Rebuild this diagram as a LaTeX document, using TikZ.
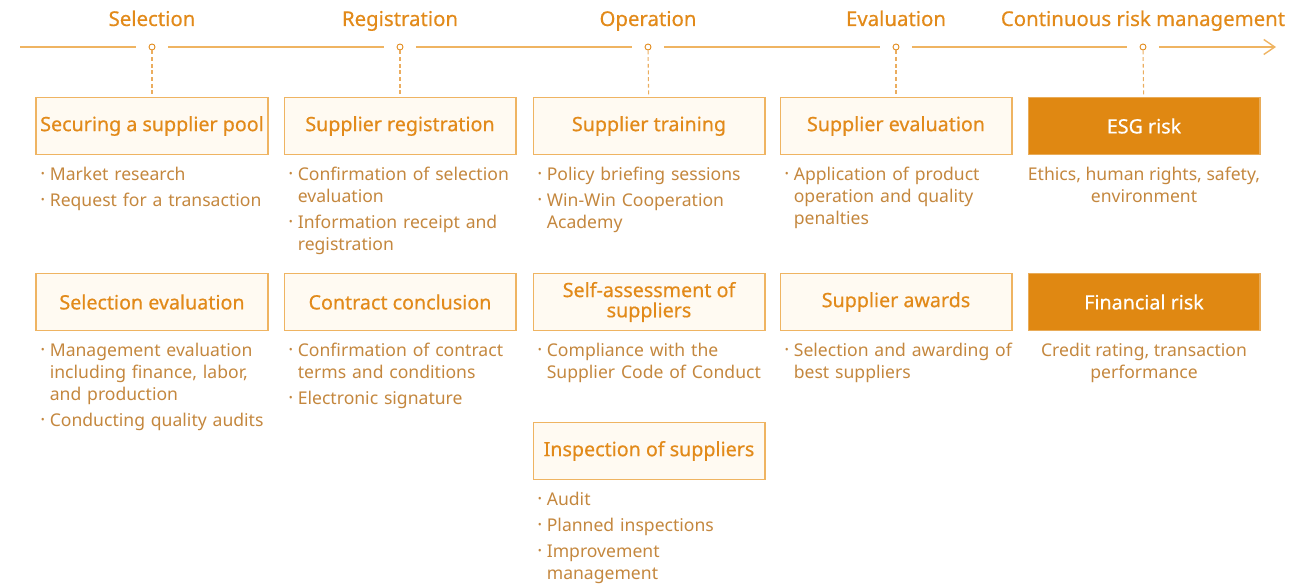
\documentclass[tikz,border=0pt]{standalone}
\usepackage{fontspec}
\setmainfont{Noto Sans}
\newfontfamily\medfont[FakeBold=0.5]{Noto Sans}
\usetikzlibrary{positioning,arrows.meta}
\definecolor{sorange}{HTML}{E28A1A}
\definecolor{sline}{HTML}{EFB462}
\definecolor{sfill}{HTML}{FFFAF2}
\definecolor{sbody}{HTML}{C4873E}
\definecolor{sdark}{HTML}{E08812}
\newcommand{\itm}[1]{\par\leftskip=0.18cm\noindent\llap{\makebox[0.18cm][l]{\raisebox{0.18em}{\scalebox{0.6}{\textbullet}}}}#1\par\vspace{0.08cm}}

\begin{document}
\begin{tikzpicture}[x=0.02cm, y=-0.02cm,
  head/.style={text=sorange, font=\medfont\fontsize{11.6}{13}\selectfont, inner sep=0pt, anchor=base},
  dot/.style={circle, draw=sorange, fill=white, line width=0.5pt, minimum size=0.12cm, inner sep=0pt},
  box/.style={draw=sline, fill=sfill, line width=0.6pt, minimum width=4.64cm, minimum height=1.14cm, inner sep=0pt, align=center, text=sorange, font=\medfont\fontsize{11.2}{11.5}\selectfont},
  risk/.style={box, draw=sdark!70, fill=sdark, text=white},
  list/.style={text width=4.6cm, align=left, inner sep=0pt, text=sbody, font=\fontsize{10}{12.5}\selectfont},
  note/.style={align=center, inner sep=0pt, text=sbody, font=\fontsize{10}{12.5}\selectfont},
  tl/.style={draw=sline, line width=0.8pt},
  drop/.style={draw=sorange!70, line width=0.6pt, dash pattern=on 2.2pt off 1.6pt}]
\useasboundingbox (0,0) rectangle (1304,584);
% timeline
\node[head] (hsel) at (152,26) {Selection};
\node[head] (hreg) at (400,26) {Registration};
\node[head] (hop) at (648,26) {Operation};
\node[head] (heval) at (896,26) {Evaluation};
\node[head] (hrisk) at (1143,26) {Continuous risk management};
\coordinate (tstart) at (20,47);
\coordinate (tend) at (1276,47);
\node[dot] (csel) at (152,47) {};
\node[dot] (creg) at (400,47) {};
\node[dot] (cop) at (648,47) {};
\node[dot] (ceval) at (896,47) {};
\node[dot] (crisk) at (1143,47) {};
\draw[tl, shorten >=0.25cm] (tstart) -- (csel);
\draw[tl, shorten <=0.25cm, shorten >=0.25cm] (csel) -- (creg);
\draw[tl, shorten <=0.25cm, shorten >=0.25cm] (creg) -- (cop);
\draw[tl, shorten <=0.25cm, shorten >=0.25cm] (cop) -- (ceval);
\draw[tl, shorten <=0.25cm, shorten >=0.25cm] (ceval) -- (crisk);
\draw[tl, shorten <=0.25cm, -{Straight Barb[length=0.22cm, width=0.3cm]}] (crisk) -- (tend);
% first row
\node[box] (pool) at (152,126) {Securing a supplier pool};
\node[box] (regi) at (400,126) {Supplier registration};
\node[box] (train) at (649,126) {Supplier training};
\node[box] (seval) at (896,126) {Supplier evaluation};
\node[risk] (esg) at (1144,126) {ESG risk};
\draw[drop] (csel) -- (pool);
\draw[drop] (creg) -- (regi);
\draw[drop] (cop) -- (train);
\draw[drop] (ceval) -- (seval);
\draw[drop] (crisk) -- (esg);
\node[list, below=0.07cm of pool.south west, anchor=north west, xshift=0.1cm] (lpool) {\itm{Market research}\itm{Request for a transaction}};
\node[list, below=0.07cm of regi.south west, anchor=north west, xshift=0.1cm] (lregi) {\itm{Confirmation of selection\newline evaluation}\itm{Information receipt and\newline registration}};
\node[list, below=0.07cm of train.south west, anchor=north west, xshift=0.1cm] (ltrain) {\itm{Policy briefing sessions}\itm{Win-Win Cooperation\newline Academy}};
\node[list, below=0.07cm of seval.south west, anchor=north west, xshift=0.1cm] (lseval) {\itm{Application of product\newline operation and quality\newline penalties}};
\node[note, below=0.23cm of esg] (lesg) {Ethics, human rights, safety,\\environment};
% second row
\node[box] (seleval) at (152,302) {Selection evaluation};
\node[box] (contract) at (400,302) {Contract conclusion};
\node[box] (selfas) at (649,302) {Self-assessment of\\suppliers};
\node[box] (awards) at (896,302) {Supplier awards};
\node[risk] (fin) at (1144,302) {Financial risk};
\node[list, below=0.07cm of seleval.south west, anchor=north west, xshift=0.1cm] (lseleval) {\itm{Management evaluation\newline including finance, labor,\newline and production}\itm{Conducting quality audits}};
\node[list, below=0.07cm of contract.south west, anchor=north west, xshift=0.1cm] (lcontract) {\itm{Confirmation of contract\newline terms and conditions}\itm{Electronic signature}};
\node[list, below=0.07cm of selfas.south west, anchor=north west, xshift=0.1cm] (lselfas) {\itm{Compliance with the\newline Supplier Code of Conduct}};
\node[list, below=0.07cm of awards.south west, anchor=north west, xshift=0.1cm] (lawards) {\itm{Selection and awarding of\newline best suppliers}};
\node[note, below=0.23cm of fin] (lfin) {Credit rating, transaction\\performance};
% third row
\node[box] (insp) at (649,451) {Inspection of suppliers};
\node[list, below=0.07cm of insp.south west, anchor=north west, xshift=0.1cm] (linsp) {\itm{Audit}\itm{Planned inspections}\itm{Improvement\newline management}};
\end{tikzpicture}
\end{document}
